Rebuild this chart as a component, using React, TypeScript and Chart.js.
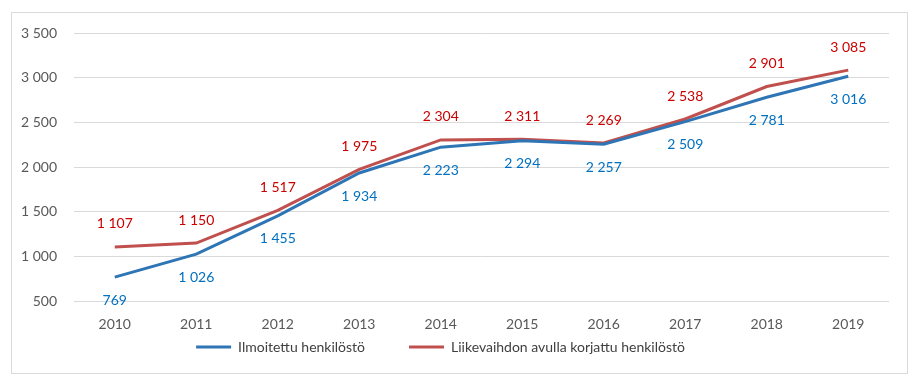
import React, { useEffect, useRef } from "react";
import { Chart, registerables } from "chart.js";

Chart.register(...registerables);

const years = ["2010", "2011", "2012", "2013", "2014", "2015", "2016", "2017", "2018", "2019"];
const reported = [769, 1026, 1455, 1934, 2223, 2294, 2257, 2509, 2781, 3016];
const corrected = [1107, 1150, 1517, 1975, 2304, 2311, 2269, 2538, 2901, 3085];
const seriesNames = ["Ilmoitettu henkilöstö", "Liikevaihdon avulla korjattu henkilöstö"];
const yMin = 500;
const yMax = 3500;
const yStep = 500;

const FONT = "Lato, 'Open Sans', sans-serif";
const fmt = (v: number) => {
  const s = String(Math.round(v));
  return s.replace(/\B(?=(\d{3})+(?!\d))/g, " ");
};

const labelPlugin = {
  id: "valueLabels",
  afterDatasetsDraw(chart: any) {
    const ctx = chart.ctx;
    ctx.save();
    ctx.font = `14px ${FONT}`;
    ctx.textAlign = "center";
    ctx.textBaseline = "middle";
    chart.data.datasets.forEach((ds: any, i: number) => {
      const meta = chart.getDatasetMeta(i);
      ctx.fillStyle = ds.labelColor;
      meta.data.forEach((pt: any, j: number) => {
        const dy = ds.labelPos === "above" ? -23 : 23;
        ctx.fillText(fmt(ds.data[j]), pt.x, pt.y + dy);
      });
    });
    ctx.restore();
  },
};

// Pull the legend up closer to the axis (Excel-like spacing) and nudge it left.
const legendShift = {
  id: "legendShift",
  afterLayout(chart: any) {
    const lg = chart.legend;
    if (!lg) return;
    lg.top -= 52;
    lg.bottom -= 52;
    lg.left -= 4;
    lg.right -= 4;
  },
};

export default function App() {
  const ref = useRef<HTMLCanvasElement>(null);
  useEffect(() => {
    if (!ref.current) return;
    const chart = new Chart(ref.current, {
      type: "line",
      data: {
        labels: years,
        datasets: [
          {
            label: seriesNames[0],
            data: reported,
            borderColor: "#2E75B6",
            backgroundColor: "#2E75B6",
            borderWidth: 3,
            pointRadius: 0,
            tension: 0,
            labelColor: "#0070C0",
            labelPos: "below",
          } as any,
          {
            label: seriesNames[1],
            data: corrected,
            borderColor: "#C0504D",
            backgroundColor: "#C0504D",
            borderWidth: 3,
            pointRadius: 0,
            tension: 0,
            labelColor: "#CC0000",
            labelPos: "above",
          } as any,
        ],
      },
      options: {
        responsive: false,
        animation: false,
        layout: { padding: { left: 0, right: 25, top: 33, bottom: 32 } },
        plugins: {
          tooltip: { enabled: false },
          legend: {
            position: "bottom",
            labels: {
              boxWidth: 35,
              boxHeight: 3,
              padding: 44,
              color: "#404040",
              font: { family: FONT, size: 14 },
              generateLabels: (c: any) => {
                const items = Chart.defaults.plugins.legend.labels.generateLabels(c);
                return items.map((it: any) => ({ ...it, lineWidth: 0 }));
              },
            },
          },
        },
        scales: {
          x: {
            offset: true,
            grid: { display: false, drawTicks: false },
            border: { display: false },
            ticks: { color: "#595959", padding: 15, font: { family: FONT, size: 14 }, maxRotation: 0, autoSkip: false },
          },
          y: {
            min: yMin,
            max: yMax,
            grid: { color: "#D9D9D9", lineWidth: 1, drawTicks: false },
            border: { display: false },
            ticks: {
              stepSize: yStep,
              color: "#595959",
              padding: 17,
              font: { family: FONT, size: 14 },
              callback: (v: any) => fmt(Number(v)),
            },
            afterFit: (s: any) => {
              s.width = 74;
            },
          },
        },
      },
      plugins: [labelPlugin, legendShift],
    });
    return () => chart.destroy();
  }, []);

  return (
    <div style={{ position: "fixed", left: 0, top: 0, width: 914, height: 448, overflow: "hidden", background: "#fff" }}>
      <div
        style={{
          position: "absolute",
          left: 11,
          top: 12,
          width: 897,
          height: 362,
          border: "1px solid #D9D9D9",
          boxSizing: "border-box",
        }}
      />
      <canvas ref={ref} width={914} height={448} style={{ position: "absolute", left: 0, top: 0 }} />
    </div>
  );
}
